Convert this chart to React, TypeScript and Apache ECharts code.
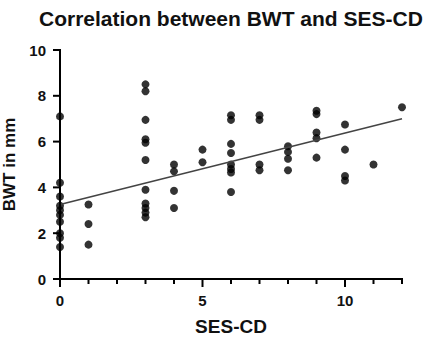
import React, { useEffect, useRef } from "react";
import * as echarts from "echarts";

// SES-CD score (x) and bowel wall thickness in mm (y)
const sesCd = [
  0, 0, 0, 0, 0, 0, 0, 0, 0, 0,
  1, 1, 1,
  3, 3, 3, 3, 3, 3, 3, 3, 3, 3, 3,
  4, 4, 4, 4,
  5, 5,
  6, 6, 6, 6, 6, 6, 6, 6,
  7, 7, 7, 7,
  8, 8, 8, 8,
  9, 9, 9, 9, 9,
  10, 10, 10, 10,
  11,
  12,
];
const bwt = [
  7.1, 4.2, 3.6, 3.2, 3.0, 2.8, 2.5, 2.0, 1.8, 1.4,
  3.25, 2.4, 1.5,
  8.5, 8.2, 6.95, 6.1, 5.95, 5.2, 3.9, 3.3, 3.1, 2.9, 2.7,
  5.0, 4.7, 3.85, 3.1,
  5.65, 5.1,
  7.15, 6.95, 5.9, 5.5, 5.0, 4.8, 4.65, 3.8,
  7.15, 6.95, 5.0, 4.75,
  5.8, 5.55, 5.25, 4.75,
  7.35, 7.2, 6.4, 6.15, 5.3,
  6.75, 5.65, 4.5, 4.3,
  5.0,
  7.5,
];
// regression line end points
const fitX = [0, 12];
const fitY = [3.25, 7.0];

// axis ranges and ticks
const xMin = 0;
const xMax = 12;
const yMin = 0;
const yMax = 10;
const xMinorTicks = [1, 2, 3, 4, 6, 7, 8, 9, 11, 12];
const xMajorTicks = [0, 5, 10];
const yTicks = [0, 2, 4, 6, 8, 10];

const titleText = "Correlation between BWT and SES-CD";
const xName = "SES-CD";
const yName = "BWT in mm";

const FONT = "'Liberation Sans', Arial, sans-serif";

export default function App() {
  const ref = useRef<HTMLDivElement>(null);
  useEffect(() => {
    document.body.style.margin = "0";
    const chart = echarts.init(ref.current!, null, { renderer: "svg" });
    const points = sesCd.map((x, i) => [x, bwt[i]]);
    const fit = fitX.map((x, i) => [x, fitY[i]]);

    chart.setOption({
      animation: false,
      title: {
        text: titleText,
        left: 34,
        top: 3,
        textStyle: { fontFamily: FONT, fontWeight: "bold", fontSize: 21, color: "#111" },
      },
      grid: { left: 60, right: 37, top: 50, bottom: 59, outerBoundsMode: "none" },
      xAxis: {
        type: "value",
        min: xMin,
        max: xMax,
        interval: 5,
        axisLine: { show: true, onZero: false, lineStyle: { color: "#000", width: 2 } },
        axisTick: { show: false },
        axisLabel: {
          show: true,
          margin: 14,
          showMaxLabel: false,
          formatter: (v: number) => (xMajorTicks.indexOf(v) >= 0 ? String(v) : ""),
          fontFamily: FONT,
          fontWeight: "bold",
          fontSize: 15,
          color: "#111",
        },
        splitLine: { show: false },
        name: xName,
        nameLocation: "middle",
        nameGap: 38,
        nameTextStyle: { fontFamily: FONT, fontWeight: "bold", fontSize: 19, color: "#111" },
      },
      yAxis: {
        type: "value",
        min: yMin,
        max: yMax,
        interval: 2,
        axisLine: { show: true, onZero: false, lineStyle: { color: "#000", width: 2 } },
        axisTick: { show: false },
        axisLabel: { margin: 14, fontFamily: FONT, fontWeight: "bold", fontSize: 15, color: "#111" },
        splitLine: { show: false },
        name: yName,
        nameLocation: "middle",
        nameGap: 35,
        nameTextStyle: { fontFamily: FONT, fontWeight: "bold", fontSize: 17, color: "#111" },
      },
      series: [
        {
          type: "scatter",
          data: points,
          symbol: "circle",
          symbolSize: 8,
          itemStyle: { color: "#000" },
          z: 3,
        },
        {
          type: "line",
          data: fit,
          symbol: "none",
          lineStyle: { color: "#444", width: 1.6 },
          z: 4,
        },
      ],
    });

    // axis lines and ticks as graphic rectangles placed with the library's own scales
    const px = (x: number, y: number) => chart.convertToPixel({ gridIndex: 0 }, [x, y]) as number[];
    const o = px(xMin, yMin);
    const e = px(xMax, yMax);
    const black = { fill: "#000" };
    const elements: any[] = [
      { type: "rect", shape: { x: o[0] - 1, y: o[1] - 1, width: e[0] - o[0] + 2, height: 2 }, style: black, z: 100 },
      { type: "rect", shape: { x: o[0] - 1, y: e[1] - 1, width: 2, height: o[1] - e[1] + 2 }, style: black, z: 100 },
    ];
    xMajorTicks.forEach((v) => {
      const p = px(v, yMin);
      elements.push({ type: "rect", shape: { x: p[0] - 1, y: p[1], width: 2, height: 8 }, style: black, z: 100 });
    });
    xMinorTicks.forEach((v) => {
      const p = px(v, yMin);
      elements.push({ type: "rect", shape: { x: p[0] - 1, y: p[1], width: 2, height: 5 }, style: black, z: 100 });
    });
    yTicks.forEach((v) => {
      const p = px(xMin, v);
      elements.push({ type: "rect", shape: { x: p[0] - 7, y: p[1] - 1, width: 7, height: 2 }, style: black, z: 100 });
    });
    chart.setOption({ graphic: { elements } });

    return () => chart.dispose();
  }, []);
  return <div ref={ref} style={{ width: 439, height: 338 }} />;
}
